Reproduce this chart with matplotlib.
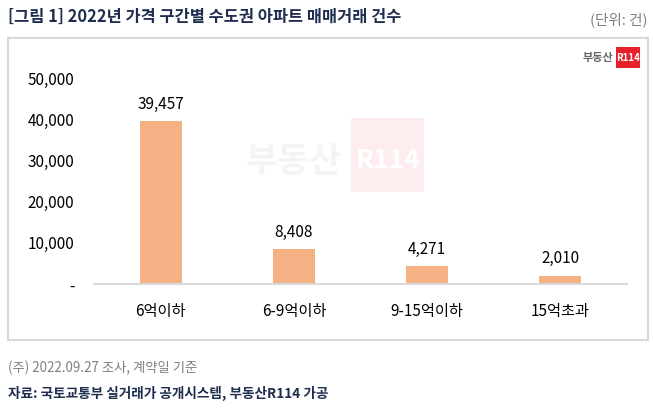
import numpy as np
import matplotlib.pyplot as plt
from matplotlib.patches import Rectangle

plt.rcParams['font.family'] = ['Noto Sans CJK KR', 'DejaVu Sans']

categories = ['6억이하', '6-9억이하', '9-15억이하', '15억초과']
counts = [39457, 8408, 4271, 2010]
yticks = [0, 10000, 20000, 30000, 40000, 50000]
ytick_labels = ['-', '10,000', '20,000', '30,000', '40,000', '50,000']

W, H = 653, 416
fig = plt.figure(figsize=(W / 100, H / 100), dpi=100)

def fx(px):
    return px / W

def fy(py):
    return 1 - py / H

# outer frame
fig.patches.append(Rectangle((fx(8), fy(340)), fx(640), 302 / H, transform=fig.transFigure,
                             fill=False, edgecolor='#D9D9D9', linewidth=1.5))

# watermark
fig.patches.append(Rectangle((fx(351), fy(192)), fx(73), 74 / H, transform=fig.transFigure,
                             facecolor='#FDEDEE', edgecolor='none', zorder=0))
fig.text(fx(294), fy(162), '부동산', fontsize=25, fontweight='bold', color='#F4F4F4',
         ha='center', va='center', zorder=0)
fig.text(fx(388), fy(160), 'R114', fontsize=19, fontweight='bold', color='white',
         ha='center', va='center', zorder=0)

ax = fig.add_axes([fx(94), fy(284), fx(533), (284 - 78) / H])
x = np.arange(len(categories))
ax.bar(x, counts, width=0.315, color='#F4B183', zorder=2)
for xi, v in zip(x, counts):
    ax.text(xi, v + 4200, f'{v:,}', ha='center', va='center', fontsize=11, color='#000000')

ax.set_xlim(-0.5, len(categories) - 0.5)
ax.set_ylim(0, 50000)
ax.set_yticks(yticks)
ax.set_yticklabels(ytick_labels)
ax.set_xticks(x)
ax.set_xticklabels(categories)
ax.tick_params(axis='both', length=0, labelsize=11, colors='#000000')
ax.tick_params(axis='y', pad=14)
ax.tick_params(axis='x', pad=14)
ax.patch.set_alpha(0)
for s in ['top', 'right', 'left']:
    ax.spines[s].set_visible(False)
ax.spines['bottom'].set_color('#D9D9D9')
ax.spines['bottom'].set_linewidth(1.5)

# titles
fig.text(fx(8), fy(17), '[그림 1] 2022년 가격 구간별 수도권 아파트 매매거래 건수', fontsize=11.8,
         fontweight='bold', color='#1F2D4E', ha='left', va='center')
fig.text(fx(648), fy(20), '(단위: 건)', fontsize=10.5, color='#808080', ha='right', va='center')

# logo
fig.text(fx(613), fy(58), '부동산', fontsize=8, fontweight='bold', color='#666666',
         ha='right', va='center')
fig.patches.append(Rectangle((fx(616), fy(68)), fx(24), 21 / H, transform=fig.transFigure,
                             facecolor='#E8202A', edgecolor='none'))
fig.text(fx(628), fy(58), 'R114', fontsize=7, fontweight='bold', color='white',
         ha='center', va='center')

# footnotes
fig.text(fx(8), fy(368), '(주) 2022.09.27 조사, 계약일 기준', fontsize=9.6, color='#808080',
         ha='left', va='center')
fig.text(fx(8), fy(393), '자료: 국토교통부 실거래가 공개시스템, 부동산R114 가공', fontsize=9.8,
         fontweight='bold', color='#1F2D4E', ha='left', va='center')

fig.savefig('out.png', dpi=100)
